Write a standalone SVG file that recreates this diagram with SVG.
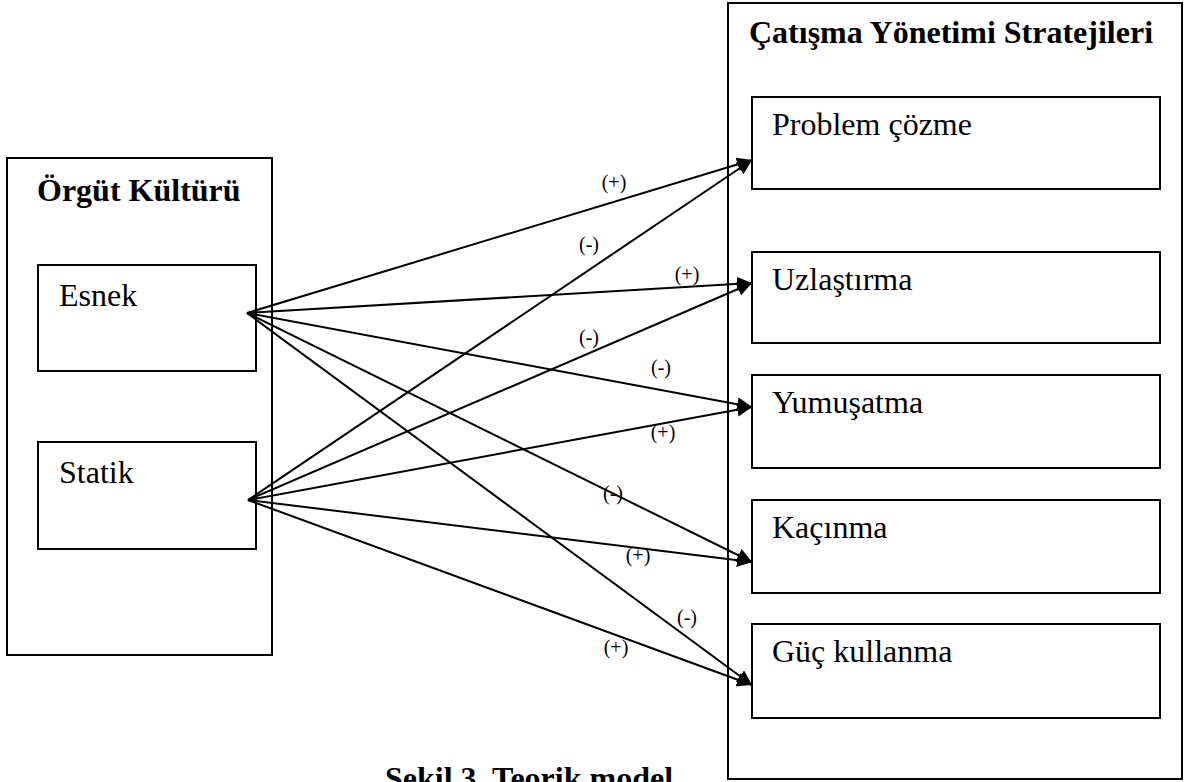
<svg xmlns="http://www.w3.org/2000/svg" width="1185" height="782" viewBox="0 0 1185 782">
<style>
.box{fill:#fff;stroke:#000;stroke-width:2}
.inner{fill:none;stroke:#000;stroke-width:2}
.t{font-family:"Liberation Serif","Times New Roman",serif;font-size:32px;fill:#000}
.b{font-weight:bold}
.lbl{font-family:"Liberation Serif","Times New Roman",serif;font-size:20px;fill:#000;text-anchor:middle}
.c{stroke:#000;stroke-width:2;fill:none;marker-end:url(#ah)}
</style>
<defs>
<marker id="ah" markerUnits="userSpaceOnUse" markerWidth="16" markerHeight="14" refX="15" refY="7" orient="auto">
<path d="M0,0 L15,7 L0,14 z" fill="#000"/>
</marker>
</defs>
<rect width="1185" height="782" fill="#fff"/>
<g id="orgut-kulturu">
<rect class="box" x="7" y="158" width="265" height="497"/>
<text class="t b" x="37" y="201">Örgüt Kültürü</text>
</g>
<g id="esnek">
<rect class="inner" x="38" y="265" width="218" height="106"/>
<text class="t" x="59" y="306">Esnek</text>
</g>
<g id="statik">
<rect class="inner" x="38" y="442" width="218" height="107"/>
<text class="t" x="59" y="483">Statik</text>
</g>
<g id="catisma">
<rect class="box" x="728" y="3" width="454" height="776"/>
<text class="t b" x="749" y="43">Çatışma Yönetimi Stratejileri</text>
</g>
<g id="problem-cozme">
<rect class="inner" x="752" y="97" width="408" height="92"/>
<text class="t" x="772" y="135">Problem çözme</text>
</g>
<g id="uzlastirma">
<rect class="inner" x="752" y="252" width="408" height="91"/>
<text class="t" x="772" y="290">Uzlaştırma</text>
</g>
<g id="yumusatma">
<rect class="inner" x="752" y="375" width="408" height="93"/>
<text class="t" x="772" y="413">Yumuşatma</text>
</g>
<g id="kacinma">
<rect class="inner" x="752" y="500" width="408" height="93"/>
<text class="t" x="772" y="538">Kaçınma</text>
</g>
<g id="guc-kullanma">
<rect class="inner" x="752" y="624" width="408" height="94"/>
<text class="t" x="772" y="662">Güç kullanma</text>
</g>
<g id="connectors">
<line class="c" x1="247" y1="313" x2="752" y2="160"/>
<line class="c" x1="248" y1="500" x2="752" y2="160"/>
<line class="c" x1="247" y1="313" x2="752" y2="283"/>
<line class="c" x1="248" y1="500" x2="752" y2="283"/>
<line class="c" x1="247" y1="313" x2="752" y2="407"/>
<line class="c" x1="248" y1="500" x2="752" y2="407"/>
<line class="c" x1="247" y1="313" x2="752" y2="562"/>
<line class="c" x1="248" y1="500" x2="752" y2="562"/>
<line class="c" x1="247" y1="313" x2="752" y2="685"/>
<line class="c" x1="248" y1="500" x2="752" y2="685"/>
</g>
<g id="labels">
<text class="lbl" x="614" y="189">(+)</text>
<text class="lbl" x="589" y="251">(-)</text>
<text class="lbl" x="687" y="281">(+)</text>
<text class="lbl" x="589" y="344">(-)</text>
<text class="lbl" x="661" y="374">(-)</text>
<text class="lbl" x="663" y="439">(+)</text>
<text class="lbl" x="613" y="500">(-)</text>
<text class="lbl" x="638" y="562">(+)</text>
<text class="lbl" x="687" y="624">(-)</text>
<text class="lbl" x="616" y="654">(+)</text>
</g>
<text class="t b" x="385" y="789">Şekil 3. Teorik model</text>
</svg>
